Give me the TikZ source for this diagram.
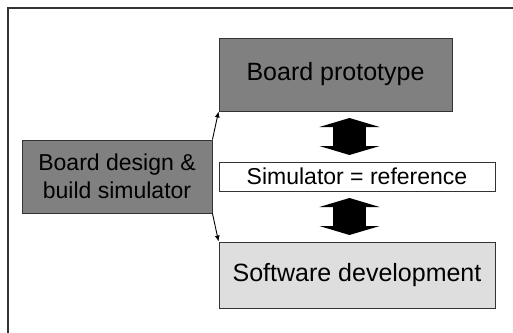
\documentclass[tikz,border=0pt]{standalone}
\usepackage{fontspec}
\setmainfont{Liberation Sans}
\usetikzlibrary{arrows.meta,positioning}
\definecolor{BoxDark}{HTML}{808080}
\definecolor{BoxLight}{HTML}{DEDEDE}
\definecolor{Edge}{HTML}{333333}

\begin{document}
\begin{tikzpicture}[
  x=1pt,y=-1pt,
  blk/.style={draw=Edge,line width=0.9pt,inner sep=0pt,align=center,font=\fontsize{25}{28}\selectfont},
  dark/.style={blk,fill=BoxDark},
  light/.style={blk,fill=BoxLight},
  refbox/.style={blk,fill=white,font=\fontsize{23}{27}\selectfont},
  feed/.style={-{Latex[length=6pt,width=5pt]},line width=0.9pt},
  twoway/.style={{Triangle[length=9pt,width=60pt]}-{Triangle[length=9pt,width=60pt]},line width=33pt}
]
\useasboundingbox (0,0) rectangle (513,332);
\draw[Edge,line width=1.2pt] (8,340) -- (8,8) -- (520,8);
\node[dark,minimum width=233pt,minimum height=73pt] (proto) at (335.5,74.5) {Board prototype};
\node[dark,minimum width=190pt,minimum height=73pt,font=\fontsize{23}{28}\selectfont] (design) at (117,176.5) {Board design \&\\build simulator};
\node[refbox,minimum width=276pt,minimum height=29pt] (sim) at (357,176.5) {Simulator = reference};
\node[light,minimum width=276pt,minimum height=66pt] (soft) at (357,275) {Software development};
% fat two-way arrows between the boxes
\coordinate (upA) at (349.5,118);
\coordinate (upB) at (349.5,155);
\coordinate (dnA) at (349.5,198);
\coordinate (dnB) at (349.5,235);
\draw[twoway] (upA) -- (upB);
\draw[twoway] (dnA) -- (dnB);
\draw[feed] (design.north east) -- (proto.south west);
\draw[feed] (design.south east) -- (soft.north west);
\end{tikzpicture}
\end{document}
